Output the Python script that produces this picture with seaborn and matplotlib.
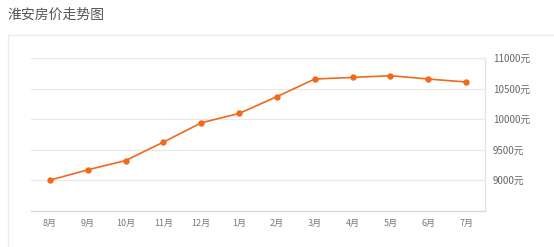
import matplotlib
matplotlib.use("Agg")
import matplotlib.pyplot as plt
import seaborn as sns
import pandas as pd
from matplotlib.lines import Line2D

months = ["8月", "9月", "10月", "11月", "12月", "1月", "2月", "3月", "4月", "5月", "6月", "7月"]
prices = [9000, 9169, 9321, 9623, 9939, 10092, 10368, 10656, 10682, 10710, 10656, 10607]
ytick_values = [9000, 9500, 10000, 10500, 11000]
ytick_labels = [f"{v}元" for v in ytick_values]
title = "淮安房价走势图"

sns.set_theme(style="white")
plt.rcParams["font.family"] = ["Noto Sans CJK SC", "DejaVu Sans"]

fig = plt.figure(figsize=(5.54, 2.47), dpi=100)
W, H = 554, 247
ax = fig.add_axes([31 / W, 1 - 210.7 / H, (485 - 31) / W, (210.7 - 58) / H])

df = pd.DataFrame({"month": months, "price": prices})
sns.lineplot(data=df, x="month", y="price", sort=False, ax=ax,
             color="#F2691B", linewidth=1.2, marker="o", markersize=4.6,
             markeredgewidth=0, zorder=3)

ax.set_xlim(-0.5, len(months) - 0.5)
ax.set_ylim(8500, 11000)
ax.set_xlabel("")
ax.set_ylabel("")
ax.yaxis.tick_right()
ax.set_yticks(ytick_values)
ax.set_yticklabels(ytick_labels)
ax.tick_params(axis="y", length=0, pad=5.5, labelsize=7, labelcolor="#666666")
ax.tick_params(axis="x", length=3, width=0.8, color="#dddddd", pad=3,
               labelsize=6.5, labelcolor="#777777")
ax.grid(axis="y", color="#e8e8e8", linewidth=0.9)
ax.grid(axis="x", visible=False)
for side in ["left"]:
    ax.spines[side].set_visible(False)
ax.spines["top"].set_color("#e8e8e8")
ax.spines["top"].set_linewidth(0.9)
ax.spines["right"].set_color("#e2e2e2")
ax.spines["right"].set_linewidth(0.9)
ax.spines["bottom"].set_color("#d6d6d6")
ax.spines["bottom"].set_linewidth(1.0)

# outer card border
fig.add_artist(Line2D([7.5 / W, 7.5 / W], [0, 1 - 35.5 / H], color="#ececec", linewidth=1.0))
fig.add_artist(Line2D([7.5 / W, 553 / W], [1 - 35.5 / H, 1 - 35.5 / H], color="#ececec", linewidth=1.0))

fig.text(7 / W, 1 - 15 / H, title, fontsize=10, color="#555555", va="center", ha="left")

fig.savefig("out.png", dpi=100)
